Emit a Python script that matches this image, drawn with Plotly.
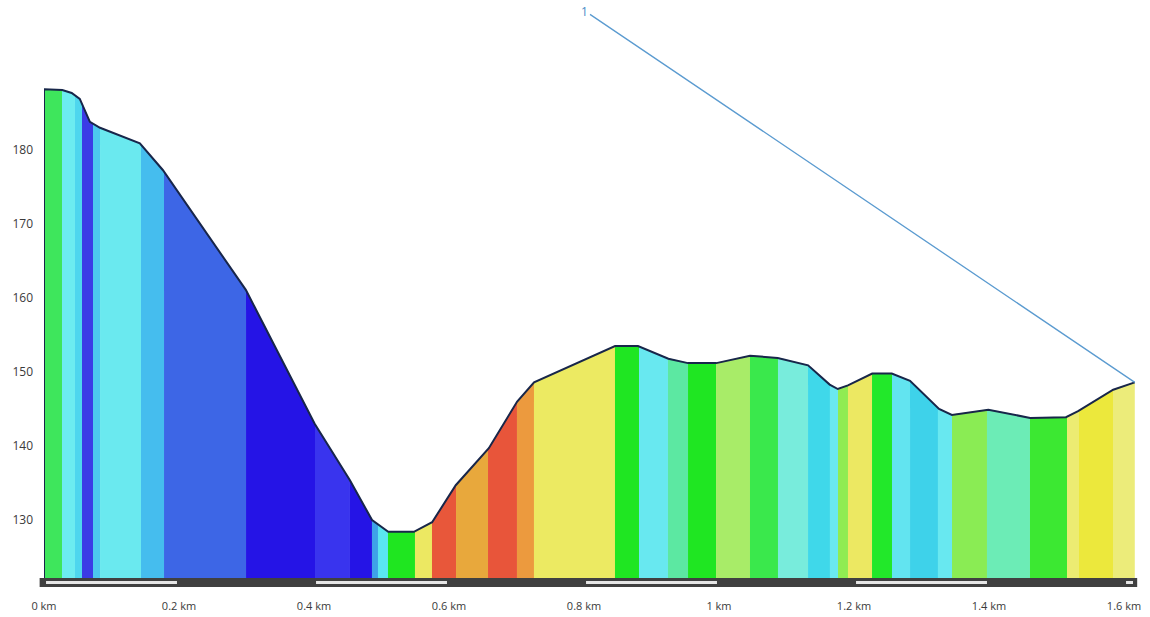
import numpy as np
import plotly.graph_objects as go

# Elevation profile: distance (km) and elevation (m)
dist_km = [0.000, 0.027, 0.041, 0.053, 0.068, 0.083, 0.142, 0.176, 0.299, 0.401,
           0.453, 0.486, 0.510, 0.548, 0.575, 0.610, 0.659, 0.701, 0.726, 0.846,
           0.880, 0.925, 0.954, 0.996, 1.046, 1.087, 1.132, 1.164, 1.176, 1.191,
           1.227, 1.256, 1.283, 1.326, 1.345, 1.399, 1.461, 1.514, 1.532, 1.584,
           1.616]
elev_m = [188.2, 188.1, 187.7, 186.9, 183.8, 183.0, 180.9, 177.3, 161.1, 143.0,
          135.4, 130.0, 128.4, 128.4, 129.7, 134.7, 139.7, 146.0, 148.6, 153.5,
          153.5, 151.8, 151.2, 151.2, 152.2, 151.9, 150.9, 148.3, 147.7, 148.2,
          149.8, 149.8, 148.8, 145.0, 144.2, 144.9, 143.8, 143.9, 144.7, 147.6,
          148.6]

# Coloured sections: boundaries (km) and colour of each section
seg_bounds = [0.0, 0.0267, 0.0459, 0.0563, 0.0726, 0.083, 0.1437, 0.1778, 0.2993,
              0.4015, 0.4533, 0.4859, 0.4948, 0.5096, 0.5496, 0.5748, 0.6104,
              0.6578, 0.7007, 0.7259, 0.8459, 0.8815, 0.9244, 0.9541, 0.9956,
              1.0459, 1.0874, 1.1319, 1.1644, 1.1763, 1.1911, 1.2267, 1.2563,
              1.2830, 1.3244, 1.3452, 1.3970, 1.4607, 1.5156, 1.5333, 1.5837,
              1.616]
seg_colors = ["#3ee65c", "#6cecf0", "#4ed6ee", "#3b3be6", "#4cc8ee", "#6ae9ef",
              "#45bdee", "#3d66e6", "#2514e6", "#3934ee", "#2514e6", "#3ea2e8",
              "#5ae6f0", "#1fe620", "#ece862", "#e8573a", "#e8a83c", "#e8553a",
              "#ec9a3e", "#ecea62", "#1fe622", "#68e8f0", "#5ce8a2", "#1fe622",
              "#a8ec68", "#3ae84c", "#78ecdc", "#3fd8ea", "#6ae8f0", "#90ec52",
              "#ece862", "#22e82a", "#62e4f0", "#3ed2ea", "#68e8f0", "#8aec54",
              "#6cecb6", "#3ce832", "#ecec72", "#ece83c", "#ecec7a"]

x_tickvals = [0, 0.2, 0.4, 0.6, 0.8, 1.0, 1.2, 1.4, 1.6]
x_ticktext = ["0 km", "0.2 km", "0.4 km", "0.6 km", "0.8 km", "1 km", "1.2 km", "1.4 km", "1.6 km"]
y_tickvals = [130, 140, 150, 160, 170, 180]
scale_step_km = 0.2
marker_label = "1"

W, H = 1150, 617
ml, mr, mt, mb = 44, 15, 20, 39
px_per_km = 675.0
px_per_m = 7.4
plot_w = W - ml - mr
plot_h = H - mt - mb
x_range = [0, plot_w / px_per_km]
y_min = 130 - 58 / px_per_m
y_range = [y_min, y_min + plot_h / px_per_m]

d = np.array(dist_km)
e = np.array(elev_m)

fig = go.Figure()
for i, col in enumerate(seg_colors):
    a, b = seg_bounds[i], seg_bounds[i + 1]
    inner = d[(d > a) & (d < b)]
    xs = np.concatenate([[a], inner, [b]])
    ys = np.interp(xs, d, e)
    fig.add_trace(go.Scatter(x=xs, y=ys, mode="lines", fill="tozeroy",
                             fillcolor=col, line=dict(width=0.6, color=col),
                             hoverinfo="skip", showlegend=False))

# profile outline
fig.add_trace(go.Scatter(x=np.concatenate([[d[0]], d]), y=np.concatenate([[y_range[0]], e]),
                         mode="lines", line=dict(color="#18264a", width=2),
                         hoverinfo="skip", showlegend=False))

shapes = []
strip_h = 9 / plot_h
shapes.append(dict(type="rect", xref="paper", yref="paper", x0=-0.004, x1=1.002,
                   y0=-strip_h, y1=0, fillcolor="#404040", line=dict(width=0), layer="above"))
k = 0
while k * scale_step_km < x_range[1]:
    if k % 2 == 0:
        x0 = k * scale_step_km + 0.003
        x1 = min((k + 1) * scale_step_km, x_range[1]) - 0.003
        shapes.append(dict(type="line", xref="x", yref="paper", x0=x0, x1=x1,
                           y0=-4.5 / plot_h, y1=-4.5 / plot_h,
                           line=dict(color="#e6e6e6", width=3), layer="above"))
    k += 1

# callout to last point
pt_px_x = ml + d[-1] * px_per_km
pt_px_y = mt + plot_h - (e[-1] - y_range[0]) * px_per_m
fig.add_annotation(x=d[-1], y=e[-1], xref="x", yref="y", text=marker_label,
                   showarrow=True, arrowhead=0, arrowwidth=1.3, arrowcolor="#5b9bd0",
                   ax=585 - pt_px_x, ay=11 - pt_px_y,
                   font=dict(color="#4a8cc6", size=12, family="Open Sans"),
                   standoff=0, startstandoff=0)

fig.update_layout(
    width=W, height=H,
    margin=dict(l=ml, r=mr, t=mt, b=mb, autoexpand=False),
    paper_bgcolor="white", plot_bgcolor="white",
    font=dict(family="Open Sans", size=12, color="#3a3a3a"),
    shapes=shapes,
    xaxis=dict(range=x_range, tickvals=x_tickvals, ticktext=x_ticktext,
               showgrid=False, zeroline=False, showline=False, ticks="",
               automargin=False,
               ticklabelstandoff=20, tickfont=dict(size=11, color="#3a3a3a")),
    yaxis=dict(range=y_range, tickvals=y_tickvals, showgrid=False, zeroline=False,
               showline=False, ticks="", ticklabelstandoff=10, automargin=False,
               tickfont=dict(size=12, color="#3a3a3a")),
)

fig.write_html("out.html", config={"displayModeBar": False},
               post_script="document.body.style.margin='0';document.body.style.overflow='hidden';")
